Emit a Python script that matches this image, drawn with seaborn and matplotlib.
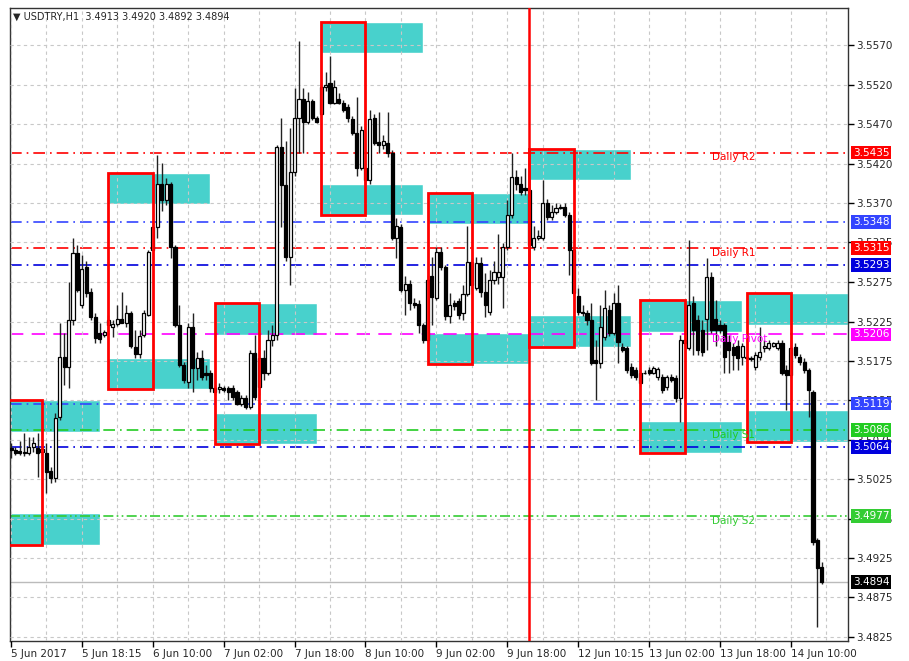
import numpy as np
import pandas as pd
import matplotlib
matplotlib.use('Agg')
import matplotlib.pyplot as plt
import seaborn as sns

# USDTRY H1 bars (open, high, low, close)
opens = [3.5063, 3.5060, 3.5059, 3.5057, 3.5057, 3.5064, 3.5063, 3.5058, 3.5057, 3.5034,
         3.5025, 3.5102, 3.5177, 3.5165, 3.5224, 3.5308, 3.5243, 3.5291, 3.5259, 3.5228,
         3.5208, 3.5205, 3.5218, 3.5215, 3.5219, 3.5225, 3.5220, 3.5233, 3.5190, 3.5181,
         3.5205, 3.5231, 3.5312, 3.5341, 3.5396, 3.5375, 3.5396, 3.5316, 3.5218, 3.5167,
         3.5146, 3.5215, 3.5164, 3.5176, 3.5157, 3.5157, 3.5138, 3.5137, 3.5138, 3.5138,
         3.5138, 3.5133, 3.5119, 3.5126, 3.5114, 3.5182, 3.5140, 3.5176, 3.5158, 3.5199,
         3.5205, 3.5442, 3.5394, 3.5303, 3.5410, 3.5478, 3.5503, 3.5473, 3.5500, 3.5478,
         3.5484, 3.5517, 3.5522, 3.5498, 3.5503, 3.5497, 3.5492, 3.5477, 3.5459, 3.5416,
         3.5416, 3.5400, 3.5478, 3.5448, 3.5444, 3.5447, 3.5434, 3.5327, 3.5341, 3.5262,
         3.5269, 3.5245, 3.5244, 3.5218, 3.5199, 3.5279, 3.5252, 3.5310, 3.5291, 3.5229,
         3.5245, 3.5248, 3.5233, 3.5257, 3.5297, 3.5265, 3.5296, 3.5259, 3.5234, 3.5274,
         3.5278, 3.5278, 3.5316, 3.5356, 3.5404, 3.5396, 3.5390, 3.5388, 3.5316, 3.5328,
         3.5328, 3.5372, 3.5354, 3.5360, 3.5365, 3.5367, 3.5356, 3.5312, 3.5255, 3.5234,
         3.5233, 3.5224, 3.5174, 3.5170, 3.5203, 3.5237, 3.5208, 3.5245, 3.5190, 3.5189,
         3.5165, 3.5161, 3.5157, 3.5158, 3.5161, 3.5158, 3.5152, 3.5152, 3.5140, 3.5152,
         3.5151, 3.5126, 3.5195, 3.5189, 3.5245, 3.5224, 3.5211, 3.5226, 3.5278, 3.5226,
         3.5218, 3.5218, 3.5196, 3.5190, 3.5192, 3.5177, 3.5176, 3.5176, 3.5165, 3.5177,
         3.5189, 3.5189, 3.5192, 3.5189, 3.5195, 3.5161, 3.5155, 3.5190, 3.5177, 3.5171,
         3.5161, 3.5133, 3.4947, 3.4913]
highs = [3.5069, 3.5064, 3.5072, 3.5082, 3.5077, 3.5077, 3.5082, 3.5067, 3.5069, 3.5039,
         3.5107, 3.5220, 3.5208, 3.5272, 3.5327, 3.5318, 3.5306, 3.5299, 3.5264, 3.5233,
         3.5220, 3.5211, 3.5230, 3.5224, 3.5243, 3.5259, 3.5243, 3.5235, 3.5211, 3.5211,
         3.5237, 3.5312, 3.5343, 3.5432, 3.5422, 3.5403, 3.5398, 3.5318, 3.5243, 3.5171,
         3.5221, 3.5233, 3.5184, 3.5186, 3.5167, 3.5161, 3.5142, 3.5145, 3.5141, 3.5141,
         3.5142, 3.5136, 3.5130, 3.5130, 3.5186, 3.5205, 3.5190, 3.5186, 3.5211, 3.5218,
         3.5444, 3.5478, 3.5450, 3.5466, 3.5516, 3.5576, 3.5516, 3.5511, 3.5502, 3.5481,
         3.5523, 3.5536, 3.5557, 3.5526, 3.5510, 3.5501, 3.5496, 3.5481, 3.5505, 3.5469,
         3.5425, 3.5488, 3.5484, 3.5486, 3.5457, 3.5486, 3.5438, 3.5352, 3.5345, 3.5279,
         3.5274, 3.5252, 3.5249, 3.5221, 3.5281, 3.5303, 3.5316, 3.5316, 3.5294, 3.5258,
         3.5249, 3.5252, 3.5268, 3.5343, 3.5302, 3.5303, 3.5303, 3.5283, 3.5287, 3.5299,
         3.5333, 3.5321, 3.5375, 3.5435, 3.5413, 3.5406, 3.5415, 3.5393, 3.5342, 3.5337,
         3.5400, 3.5377, 3.5369, 3.5371, 3.5370, 3.5372, 3.5360, 3.5315, 3.5265, 3.5243,
         3.5237, 3.5245, 3.5199, 3.5243, 3.5262, 3.5243, 3.5258, 3.5268, 3.5195, 3.5192,
         3.5170, 3.5165, 3.5161, 3.5161, 3.5165, 3.5166, 3.5165, 3.5156, 3.5155, 3.5156,
         3.5155, 3.5205, 3.5245, 3.5325, 3.5255, 3.5230, 3.5224, 3.5302, 3.5284, 3.5249,
         3.5224, 3.5220, 3.5205, 3.5195, 3.5199, 3.5195, 3.5180, 3.5179, 3.5184, 3.5215,
         3.5199, 3.5199, 3.5197, 3.5199, 3.5199, 3.5167, 3.5199, 3.5195, 3.5181, 3.5176,
         3.5164, 3.5136, 3.4950, 3.4920]
lows = [3.5050, 3.5054, 3.5054, 3.5053, 3.5054, 3.5058, 3.5026, 3.5054, 3.5006, 3.5019,
        3.5020, 3.5098, 3.5142, 3.5138, 3.5218, 3.5259, 3.5239, 3.5253, 3.5224, 3.5195,
        3.5195, 3.5203, 3.5209, 3.5203, 3.5216, 3.5220, 3.5215, 3.5189, 3.5176, 3.5176,
        3.5203, 3.5229, 3.5310, 3.5327, 3.5362, 3.5369, 3.5302, 3.5215, 3.5165, 3.5145,
        3.5138, 3.5133, 3.5148, 3.5148, 3.5148, 3.5133, 3.5130, 3.5132, 3.5133, 3.5123,
        3.5123, 3.5117, 3.5116, 3.5112, 3.5112, 3.5124, 3.5130, 3.5148, 3.5155, 3.5192,
        3.5199, 3.5341, 3.5299, 3.5268, 3.5406, 3.5434, 3.5434, 3.5471, 3.5476, 3.5472,
        3.5482, 3.5513, 3.5496, 3.5496, 3.5496, 3.5486, 3.5474, 3.5457, 3.5406, 3.5413,
        3.5396, 3.5396, 3.5444, 3.5435, 3.5440, 3.5430, 3.5325, 3.5302, 3.5259, 3.5230,
        3.5237, 3.5239, 3.5208, 3.5195, 3.5195, 3.5218, 3.5249, 3.5287, 3.5224, 3.5221,
        3.5237, 3.5226, 3.5224, 3.5254, 3.5262, 3.5262, 3.5253, 3.5228, 3.5231, 3.5270,
        3.5270, 3.5239, 3.5312, 3.5352, 3.5388, 3.5381, 3.5381, 3.5315, 3.5312, 3.5325,
        3.5325, 3.5350, 3.5350, 3.5357, 3.5364, 3.5354, 3.5281, 3.5255, 3.5230, 3.5229,
        3.5218, 3.5167, 3.5123, 3.5164, 3.5199, 3.5204, 3.5205, 3.5170, 3.5184, 3.5157,
        3.5151, 3.5148, 3.5141, 3.5156, 3.5155, 3.5156, 3.5148, 3.5132, 3.5136, 3.5146,
        3.5121, 3.5096, 3.5192, 3.5186, 3.5180, 3.5180, 3.5179, 3.5186, 3.5208, 3.5192,
        3.5208, 3.5157, 3.5157, 3.5161, 3.5161, 3.5167, 3.5174, 3.5172, 3.5161, 3.5174,
        3.5184, 3.5186, 3.5190, 3.5186, 3.5155, 3.5111, 3.5151, 3.5176, 3.5167, 3.5157,
        3.5102, 3.4941, 3.4838, 3.4892]
closes = [3.5060, 3.5057, 3.5057, 3.5058, 3.5064, 3.5069, 3.5057, 3.5062, 3.5033, 3.5025,
          3.5101, 3.5177, 3.5165, 3.5224, 3.5308, 3.5262, 3.5289, 3.5258, 3.5228, 3.5201,
          3.5200, 3.5209, 3.5224, 3.5219, 3.5225, 3.5221, 3.5233, 3.5192, 3.5181, 3.5204,
          3.5233, 3.5310, 3.5341, 3.5396, 3.5375, 3.5396, 3.5316, 3.5218, 3.5167, 3.5148,
          3.5215, 3.5164, 3.5176, 3.5152, 3.5155, 3.5138, 3.5133, 3.5140, 3.5136, 3.5133,
          3.5127, 3.5119, 3.5126, 3.5114, 3.5182, 3.5127, 3.5176, 3.5158, 3.5199, 3.5205,
          3.5442, 3.5394, 3.5303, 3.5410, 3.5478, 3.5503, 3.5473, 3.5500, 3.5478, 3.5474,
          3.5517, 3.5520, 3.5498, 3.5517, 3.5498, 3.5488, 3.5478, 3.5459, 3.5416, 3.5463,
          3.5400, 3.5477, 3.5447, 3.5444, 3.5450, 3.5434, 3.5327, 3.5343, 3.5262, 3.5269,
          3.5245, 3.5243, 3.5218, 3.5199, 3.5274, 3.5253, 3.5310, 3.5291, 3.5229, 3.5243,
          3.5242, 3.5231, 3.5257, 3.5297, 3.5268, 3.5296, 3.5259, 3.5243, 3.5274, 3.5284,
          3.5284, 3.5316, 3.5356, 3.5404, 3.5396, 3.5385, 3.5388, 3.5318, 3.5328, 3.5330,
          3.5372, 3.5354, 3.5360, 3.5365, 3.5367, 3.5356, 3.5312, 3.5258, 3.5234, 3.5233,
          3.5224, 3.5170, 3.5170, 3.5215, 3.5239, 3.5208, 3.5245, 3.5196, 3.5186, 3.5161,
          3.5155, 3.5152, 3.5145, 3.5157, 3.5157, 3.5164, 3.5162, 3.5136, 3.5152, 3.5148,
          3.5126, 3.5199, 3.5199, 3.5243, 3.5211, 3.5186, 3.5184, 3.5278, 3.5211, 3.5211,
          3.5211, 3.5177, 3.5186, 3.5180, 3.5176, 3.5192, 3.5177, 3.5175, 3.5180, 3.5184,
          3.5192, 3.5195, 3.5195, 3.5195, 3.5158, 3.5155, 3.5189, 3.5180, 3.5171, 3.5161,
          3.5136, 3.4945, 3.4912, 3.4894]

# daily zones: first bar of day, upper zone, lower zone
day_start = [-3, 22, 46, 70, 94, 117, 142, 166]
up_top = [3.5123, 3.5409, 3.5245, 3.5599, 3.5384, 3.5440, 3.5249, 3.5258]
up_bot = [3.5083, 3.5370, 3.5205, 3.5560, 3.5345, 3.5400, 3.5209, 3.5218]
lo_top = [3.4981, 3.5176, 3.5107, 3.5396, 3.5208, 3.5230, 3.5097, 3.5111]
lo_bot = [3.4941, 3.5137, 3.5068, 3.5356, 3.5169, 3.5190, 3.5057, 3.5070]

# pivot / fib levels
level_vals = [3.5435, 3.5348, 3.5315, 3.5293, 3.5206, 3.5119, 3.5086, 3.5064, 3.4977]
level_cols = ['#ff0000', '#3344ff', '#ff0000', '#0000dd', '#ff00ff', '#3344ff', '#22cc22', '#0000dd', '#33cc33']
level_names = ['Daily R2', '', 'Daily R1', '', 'Daily Pivot', '', 'Daily S1', '', 'Daily S2']
bid = 3.4894

time_labels = ['5 Jun 2017', '5 Jun 18:15', '6 Jun 10:00', '7 Jun 02:00', '7 Jun 18:00', '8 Jun 10:00',
               '9 Jun 02:00', '9 Jun 18:00', '12 Jun 10:15', '13 Jun 02:00', '13 Jun 18:00', '14 Jun 10:00']
price_ticks = [3.4825, 3.4875, 3.4924, 3.4974, 3.5024, 3.5073, 3.5123, 3.5173,
               3.5222, 3.5272, 3.5322, 3.5371, 3.5421, 3.5471, 3.5520, 3.5570]
price_labels = ['3.4825', '3.4875', '3.4925', '3.4975', '3.5025', '3.5075', '3.5125', '3.5175',
                '3.5225', '3.5275', '3.5325', '3.5370', '3.5420', '3.5470', '3.5520', '3.5570']

df = pd.DataFrame({'open': opens, 'high': highs, 'low': lows, 'close': closes})
df['x'] = np.arange(len(df))
df['bull'] = df.close >= df.open
df['bot'] = df[['open', 'close']].min(axis=1)
df['h'] = (df.close - df.open).abs().clip(lower=0.00004)

sns.set_theme(style='whitegrid', rc={'grid.color': '#c8c8c8', 'grid.linestyle': (0, (3, 3)),
                                     'grid.linewidth': 0.8, 'axes.edgecolor': 'black',
                                     'axes.linewidth': 1.0})
plt.rcParams['font.family'] = ['DejaVu Sans']

fig = plt.figure(figsize=(9.09, 6.61), dpi=100)
ax = fig.add_axes([10/909, 20/661, 838/909, 633/661])

# zones and boxes
zw, bw = 23, 10
ax.bar(day_start, np.subtract(up_top, up_bot), bottom=up_bot, width=zw, align='edge',
       color='#48d1cc', zorder=0.5)
ax.bar(day_start, np.subtract(lo_top, lo_bot), bottom=lo_bot, width=zw, align='edge',
       color='#48d1cc', zorder=0.5)
ax.bar(day_start, np.subtract(up_top, lo_bot), bottom=lo_bot, width=bw, align='edge',
       fill=False, edgecolor='#ff0000', linewidth=2, zorder=5)

ax.set_axisbelow(False)
ax.grid(True, zorder=1)

# levels
for v, c, n in zip(level_vals, level_cols, level_names):
    ls = (0, (8, 5)) if c == '#ff00ff' else ((0, (6, 2, 1, 2, 1, 2)) if n == 'Daily S2' else (0, (7, 3, 1, 3)))
    ax.axhline(v, color=c, lw=1.2, ls=ls, zorder=2)
    if n:
        ax.text(158.2, v - 0.0006, n, color=c, fontsize=7.5, va='center', ha='left', zorder=6)
    ax.text(1.006, v, f'{v:.4f}', transform=ax.get_yaxis_transform(), color='white', fontsize=7.5,
            va='center', ha='left', zorder=10, clip_on=False,
            bbox=dict(boxstyle='square,pad=0.18', fc=c, ec='none'))
ax.axhline(bid, color='#bbbbbb', lw=1, zorder=2)
ax.text(1.006, bid, f'{bid:.4f}', transform=ax.get_yaxis_transform(), color='white', fontsize=7.5,
        va='center', ha='left', zorder=10, clip_on=False,
        bbox=dict(boxstyle='square,pad=0.18', fc='black', ec='none'))
ax.axvline(116.8, color='#ff0000', lw=1.8, zorder=6)

# candles
ax.vlines(df.x, df.low, df.high, color='#222222', lw=1, zorder=3)
ax.bar(df.x, df.h, bottom=df.bot, width=0.7, color=np.where(df.bull, 'white', 'black'),
       edgecolor='black', linewidth=0.9, zorder=4)

ax.set_xlim(-0.23, 188.9)
ax.set_ylim(3.4820, 3.5617)
ax.set_xticks(np.arange(0, 177, 16))
ax.set_xticklabels(time_labels, ha='left', fontsize=7.5)
ax.set_xticks(np.arange(8, 189, 16), minor=True)
ax.set_yticks(price_ticks)
ax.set_yticklabels(price_labels, fontsize=7.5)
ax.yaxis.tick_right()
ax.tick_params(axis='both', which='major', length=4, width=1, color='black', pad=2, bottom=True, right=True)
ax.tick_params(axis='x', which='minor', length=0)
ax.grid(True, which='minor', axis='x')
ax.set_xlabel('')
ax.set_ylabel('')
for s in ax.spines.values():
    s.set_color('#333333')

ax.text(0.004, 0.994, '\u25bc USDTRY,H1  3.4913 3.4920 3.4892 3.4894', transform=ax.transAxes,
        fontsize=7, va='top', ha='left', zorder=10)

fig.savefig('out.png', dpi=100)
